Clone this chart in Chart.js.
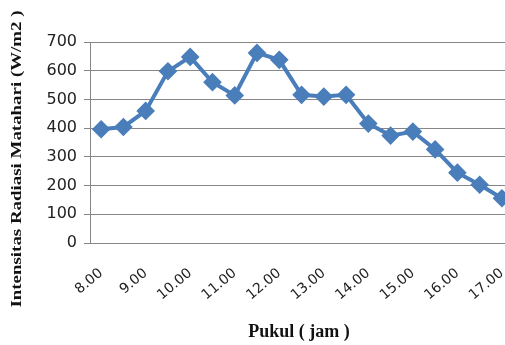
<!DOCTYPE html>
<html>
<head>
<meta charset="utf-8">
<script src="https://cdn.jsdelivr.net/npm/chart.js@4/dist/chart.umd.min.js"></script>
<style>
  html, body { margin: 0; padding: 0; background: #fff; overflow: hidden; }
  #wrap { width: 527px; height: 345px; }
</style>
</head>
<body>
<div id="wrap"><canvas id="radiasi"></canvas></div>
<script>
// ------------------------------
// DATA
// ------------------------------
const categories = ["8.00", "8.30", "9.00", "9.30", "10.00", "10.30", "11.00", "11.30", "12.00", "12.30",
                    "13.00", "13.30", "14.00", "14.30", "15.00", "15.30", "16.00", "16.30", "17.00"];
const radiasi = [396, 404, 460, 598, 648, 560, 514, 662, 638, 516,
                 510, 516, 416, 374, 388, 326, 245, 203, 156];
const yTicks = [0, 100, 200, 300, 400, 500, 600, 700];

const yTitle = "Intensitas Radiasi Matahari (W/m2 )";
const xTitle = "Pukul ( jam )";

// ------------------------------
// AXIS TITLES (serif, drawn by hand)
// ------------------------------
const axisTitles = {
    id: "axisTitles",
    afterDraw(chart) {
        const ctx = chart.ctx;
        ctx.save();
        ctx.fillStyle = "#111";
        ctx.font = "bold 15px 'Liberation Serif', 'Times New Roman', serif";
        ctx.textAlign = "center";
        ctx.textBaseline = "middle";
        ctx.translate(17, 159);
        ctx.rotate(-Math.PI / 2);
        ctx.scale(1.26, 1);   // the original title is stretched along its length
        ctx.fillText(yTitle, 0, 0);
        ctx.restore();

        ctx.save();
        ctx.fillStyle = "#111";
        ctx.font = "bold 18px 'Liberation Serif', 'Times New Roman', serif";
        ctx.textAlign = "center";
        ctx.textBaseline = "middle";
        ctx.fillText(xTitle, 299, 332);
        ctx.restore();
    }
};

const ctx = document.getElementById("radiasi").getContext("2d");

new Chart(ctx, {
    type: "line",
    data: {
        labels: categories,
        datasets: [{
            data: radiasi,
            borderColor: "#4a7ebb",
            backgroundColor: "#4a7ebb",
            borderWidth: 4,
            pointStyle: "rectRot",
            pointRadius: 6.5,
            pointHoverRadius: 6.5,
            fill: false,
            tension: 0
        }]
    },
    options: {
        responsive: true,
        maintainAspectRatio: false,
        animation: false,
        layout: { padding: { top: 42, left: 0, right: 0, bottom: 0 } },
        plugins: {
            legend: { display: false },
            tooltip: { enabled: false }
        },
        scales: {
            x: {
                offset: true,
                grid: { display: false },
                border: { display: true, color: "#868686", width: 1 },
                ticks: {
                    autoSkip: false,
                    maxRotation: 40,
                    minRotation: 40,
                    padding: 14,
                    color: "#222",
                    font: { family: "'DejaVu Sans', sans-serif", size: 14 },
                    callback: (v, i) => (i % 2 === 0 ? categories[i] : "")
                },
                afterFit: (scale) => { scale.height = 102; }
            },
            y: {
                min: 0,
                max: 700,
                afterBuildTicks: (scale) => { scale.ticks = yTicks.map(v => ({ value: v })); },
                grid: { color: "#868686", tickLength: 6, lineWidth: 1 },
                border: { display: true, color: "#868686", width: 1 },
                ticks: {
                    padding: 7,
                    color: "#222",
                    font: { family: "'DejaVu Sans', sans-serif", size: 16 }
                },
                afterFit: (scale) => { scale.width = 90; }
            }
        }
    },
    plugins: [axisTitles]
});
</script>
</body>
</html>
